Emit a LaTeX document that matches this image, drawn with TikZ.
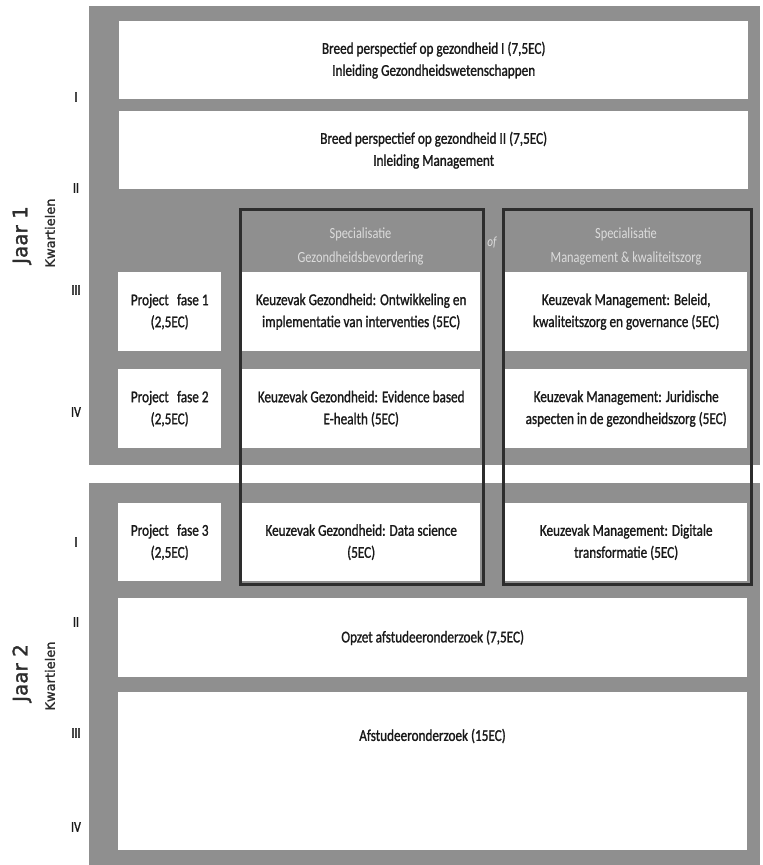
\documentclass[tikz,border=0pt]{standalone}
\usepackage{fontspec}
\setmainfont{Carlito}[FakeStretch=0.8, FakeBold=1.2]
\newfontfamily\headfont{Carlito}[FakeStretch=0.8]
\newfontfamily\labelfont{DejaVu Sans}[FakeBold=1.5]
\definecolor{panelgray}{RGB}{143,143,143}
\definecolor{outlinec}{RGB}{45,45,45}
\definecolor{headc}{RGB}{220,220,220}
\definecolor{textc}{RGB}{25,25,25}
\tikzset{
  panel/.style={fill=panelgray, draw=none},
  wbox/.style={rectangle, fill=white, draw=none, inner sep=2pt, anchor=north west, align=center,
    text=textc, font=\fontsize{16.5}{22}\selectfont},
  obox/.style={rectangle, draw=outlinec, line width=3pt, fill=none, inner sep=0pt, anchor=north west},
  headtxt/.style={align=center, text=headc, font=\headfont\fontsize{15.5}{24}\selectfont},
  roman/.style={text=textc, font=\fontsize{15}{18}\selectfont},
  jaar/.style={rotate=90, text=outlinec, font=\labelfont\fontsize{20}{24}\selectfont},
  kwart/.style={rotate=90, text=outlinec, font=\labelfont\fontsize{13}{16}\selectfont},
}
\begin{document}
\begin{tikzpicture}[x=1pt,y=-1pt]
\useasboundingbox[fill=white] (0,0) rectangle (763,865);
% gray panels
\path[panel] (89,6) rectangle (760,465);
\path[panel] (89,483) rectangle (760,865);
% year 1 full-width
\node[wbox, minimum width=629pt, minimum height=78pt] (b1) at (119,21) {Breed perspectief op gezondheid I (7,5EC)\\Inleiding Gezondheidswetenschappen};
\node[wbox, minimum width=629pt, minimum height=78pt] (b2) at (119,111) {Breed perspectief op gezondheid II (7,5EC)\\Inleiding Management};
% project boxes
\node[wbox, minimum width=103pt, minimum height=79pt] (p1) at (118,272) {Project\enspace fase 1\\(2,5EC)};
\node[wbox, minimum width=103pt, minimum height=79pt] (p2) at (118,369) {Project\enspace fase 2\\(2,5EC)};
\node[wbox, minimum width=103pt, minimum height=78pt] (p3) at (118,503) {Project\enspace fase 3\\(2,5EC)};
% gezondheid column
\node[wbox, minimum width=238pt, minimum height=79pt] (g1) at (242,272) {Keuzevak Gezondheid: Ontwikkeling en\\implementatie van interventies (5EC)};
\node[wbox, minimum width=238pt, minimum height=79pt] (g2) at (242,369) {Keuzevak Gezondheid: Evidence based\\E-health (5EC)};
\node[wbox, minimum width=238pt, minimum height=78pt] (g3) at (242,503) {Keuzevak Gezondheid: Data science\\(5EC)};
% management column
\node[wbox, minimum width=242pt, minimum height=79pt] (m1) at (505,272) {Keuzevak Management: Beleid,\\kwaliteitszorg en governance (5EC)};
\node[wbox, minimum width=242pt, minimum height=79pt] (m2) at (505,369) {Keuzevak Management: Juridische\\aspecten in de gezondheidszorg (5EC)};
\node[wbox, minimum width=242pt, minimum height=78pt] (m3) at (505,503) {Keuzevak Management: Digitale\\transformatie (5EC)};
% year 2 full-width
\node[wbox, minimum width=629pt, minimum height=79pt] (opzet) at (118,598) {Opzet afstudeeronderzoek (7,5EC)};
\node[wbox, minimum width=629pt, minimum height=158pt] (afst) at (118,692) {};
\node[text=textc, font=\fontsize{16.5}{22}\selectfont] (afsttxt) at (432.5,736) {Afstudeeronderzoek (15EC)};
% specialisation outlines
\node[obox, minimum width=243pt, minimum height=375pt] (og) at (239,208) {};
\node[obox, minimum width=248pt, minimum height=375pt] (om) at (502,208) {};
\node[headtxt] (hg) at (360.5,246) {Specialisatie\\Gezondheidsbevordering};
\node[headtxt] (hm) at (626,246) {Specialisatie\\Management \& kwaliteitszorg};
\node[text=headc, font=\headfont\itshape\fontsize{14}{16}\selectfont] (of) at (492,243) {of};
% left labels
\node[jaar] (j1) at (22,235) {Jaar 1};
\node[kwart] (k1) at (50,233) {Kwartielen};
\node[jaar] (j2) at (22,673) {Jaar 2};
\node[kwart] (k2) at (50,676) {Kwartielen};
\node[roman] (r1a) at (76,97) {I};
\node[roman] (r1b) at (76,188) {II};
\node[roman] (r1c) at (76,290) {III};
\node[roman] (r1d) at (76,412) {IV};
\node[roman] (r2a) at (76,542) {I};
\node[roman] (r2b) at (76,622) {II};
\node[roman] (r2c) at (76,733) {III};
\node[roman] (r2d) at (76,827) {IV};
\end{tikzpicture}
\end{document}
